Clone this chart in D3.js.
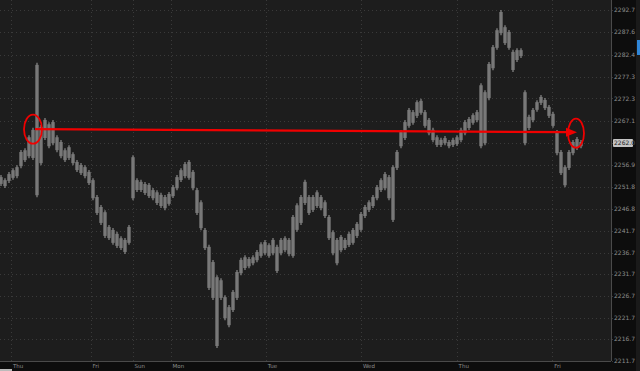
<!DOCTYPE html>
<html>
<head>
<meta charset="utf-8">
<script src="https://cdn.jsdelivr.net/npm/d3@7"></script>
<style>
  html, body { margin: 0; padding: 0; background: #1d1d1d; overflow: hidden; }
  svg { display: block; font-family: "DejaVu Sans", sans-serif; }
</style>
</head>
<body>
<div id="chart"></div>
<script>
// hourly bars, high / low
const highs = [2254.6, 2253.9, 2255.3, 2256.2, 2256.9, 2260.4, 2260.8, 2263.8, 2265.5, 2280.5,
  2266.2, 2267.8, 2266.8, 2267.3, 2263.8, 2262.7, 2260.8, 2261.5, 2259.9, 2258.1,
  2257.4, 2256.9, 2255.8, 2253.9, 2250.0, 2247.7, 2246.5, 2243.1, 2242.4, 2241.5,
  2240.5, 2240.1, 2243.1, 2259.2, 2253.9, 2253.5, 2253.0, 2252.8, 2251.6, 2251.1,
  2250.5, 2250.0, 2250.7, 2252.3, 2254.6, 2256.2, 2257.6, 2258.1, 2255.8, 2251.6,
  2248.8, 2242.4, 2238.5, 2235.0, 2231.5, 2230.8, 2226.9, 2224.6, 2228.1, 2232.7,
  2235.5, 2236.1, 2235.7, 2236.1, 2237.3, 2239.1, 2239.6, 2238.9, 2240.1, 2238.5,
  2240.1, 2240.5, 2240.1, 2245.4, 2248.1, 2250.0, 2253.5, 2250.0, 2250.0, 2251.1,
  2250.0, 2248.8, 2245.4, 2241.9, 2240.1, 2240.8, 2240.1, 2241.5, 2242.4, 2243.8,
  2246.1, 2247.7, 2248.8, 2250.0, 2252.3, 2253.9, 2255.3, 2254.6, 2256.9, 2260.4,
  2265.0, 2267.3, 2270.1, 2269.6, 2271.9, 2272.2, 2269.6, 2267.8, 2265.5, 2263.8,
  2263.2, 2263.6, 2262.7, 2263.2, 2263.8, 2265.5, 2267.3, 2268.0, 2268.9, 2269.6,
  2275.8, 2274.2, 2280.7, 2284.6, 2288.5, 2292.7, 2289.2, 2288.1, 2283.5, 2283.9,
  2283.9, 2274.2, 2268.5, 2270.1, 2271.9, 2273.1, 2272.4, 2270.8, 2269.2, 2265.0,
  2260.4, 2256.9, 2260.4, 2262.7, 2263.4, 2262.7];
const lows = [2252.1, 2251.6, 2252.8, 2253.5, 2253.9, 2256.2, 2257.6, 2258.5, 2258.1, 2249.5,
  2256.9, 2262.7, 2260.8, 2261.5, 2259.9, 2258.5, 2257.6, 2258.1, 2256.9, 2255.3,
  2254.6, 2253.9, 2252.3, 2248.8, 2245.4, 2243.1, 2240.1, 2239.6, 2238.5, 2237.8,
  2237.3, 2236.4, 2238.5, 2248.8, 2250.7, 2250.7, 2250.0, 2249.3, 2248.8, 2247.7,
  2247.0, 2246.5, 2247.5, 2249.3, 2251.1, 2253.0, 2253.9, 2253.5, 2251.1, 2245.4,
  2241.9, 2237.3, 2228.1, 2225.8, 2214.7, 2225.8, 2221.1, 2219.5, 2223.0, 2225.8,
  2231.5, 2232.7, 2233.1, 2233.8, 2234.5, 2235.5, 2236.1, 2235.5, 2236.1, 2232.0,
  2236.1, 2236.8, 2235.9, 2235.5, 2241.5, 2243.1, 2247.7, 2245.4, 2246.1, 2247.0,
  2246.5, 2244.7, 2239.6, 2236.1, 2233.8, 2236.8, 2237.3, 2238.0, 2238.5, 2240.1,
  2241.5, 2244.7, 2246.1, 2247.0, 2248.8, 2250.7, 2251.1, 2248.8, 2243.8, 2255.8,
  2260.8, 2262.7, 2265.5, 2266.2, 2267.8, 2268.5, 2265.5, 2263.8, 2262.2, 2261.1,
  2261.1, 2261.5, 2260.8, 2261.1, 2261.3, 2262.2, 2263.8, 2265.0, 2266.2, 2266.8,
  2260.8, 2261.5, 2271.9, 2278.8, 2283.5, 2286.9, 2284.6, 2283.5, 2278.4, 2280.7,
  2281.6, 2261.5, 2265.0, 2266.8, 2269.2, 2270.8, 2269.6, 2267.8, 2265.5, 2259.2,
  2254.6, 2251.8, 2255.8, 2259.2, 2260.4, 2260.8];

const priceTicks = [2292.7, 2287.6, 2282.4, 2277.3, 2272.3, 2267.1, 2262.0, 2256.9, 2251.8,
  2246.8, 2241.7, 2236.7, 2231.7, 2226.7, 2221.7, 2216.7, 2211.7];
const dayLabels = ["Thu", "Fri", "Sun", "Mon", "Tue", "Wed", "Thu", "Fri"];
const dayAt = [2.5, 22.4, 32.9, 42.4, 66.2, 90, 113.9, 137.8];
const lastPrice = 2262.0;

// the red drawn-in arrow: from bar/price to bar/price
const arrowFrom = [8.5, 2265.2];
const arrowTo = [144, 2264.5];

const W = 640, H = 371;
const plotR = 611, plotB = 361;

const svg = d3.select("#chart").append("svg").attr("width", W).attr("height", H);

const x = d3.scaleLinear().domain([-0.25, 152.5]).range([0, plotR]);
const y = d3.scaleLinear().domain([2211.7, 2292.7]).range([plotB, 10]);

svg.append("rect").attr("width", W).attr("height", H).attr("fill", "#1d1d1d");
// right axis panel
svg.append("rect").attr("x", plotR).attr("y", 0).attr("width", W - plotR).attr("height", H).attr("fill", "#0d0d0d");
svg.append("rect").attr("x", 636).attr("y", 0).attr("width", 4).attr("height", H).attr("fill", "#1a1a1a");
svg.append("rect").attr("x", 637).attr("y", 40).attr("width", 3).attr("height", 15).attr("fill", "#2f86d8");
// bottom axis band
svg.append("rect").attr("x", 0).attr("y", plotB).attr("width", plotR).attr("height", H - plotB).attr("fill", "#0d0d0d");

// grid
svg.append("g").selectAll("line").data(priceTicks).join("line")
  .attr("x1", 0).attr("x2", plotR + 3)
  .attr("y1", d => Math.round(y(d)) + 0.5).attr("y2", d => Math.round(y(d)) + 0.5)
  .attr("stroke", "#3a3a3a").attr("stroke-dasharray", "1,3");
svg.append("g").selectAll("line").data(dayAt).join("line")
  .attr("x1", d => Math.round(x(d)) + 0.5).attr("x2", d => Math.round(x(d)) + 0.5)
  .attr("y1", 0).attr("y2", plotB + 2)
  .attr("stroke", "#3a3a3a").attr("stroke-dasharray", "1,3");

// borders
svg.append("line").attr("x1", plotR + 0.5).attr("x2", plotR + 0.5).attr("y1", 0).attr("y2", plotB)
  .attr("stroke", "#4a4a4a");
svg.append("line").attr("x1", 0).attr("x2", plotR).attr("y1", plotB + 0.5).attr("y2", plotB + 0.5)
  .attr("stroke", "#4a4a4a");

// bars: soft body over the whole hour slot, brighter wick in the middle
const bars = highs.map((h, i) => ({ i, h, l: lows[i] }));
const step = x(1) - x(0);
const g = svg.append("g");
g.selectAll("rect").data(bars).join("rect")
  .attr("x", d => x(d.i) - step / 2)
  .attr("y", d => y(d.h) + 2)
  .attr("width", step)
  .attr("height", d => Math.max(1, y(d.l) - y(d.h) - 4))
  .attr("fill", "#5c5c5c");
g.selectAll("line").data(bars).join("line")
  .attr("x1", d => x(d.i)).attr("x2", d => x(d.i))
  .attr("y1", d => y(d.h)).attr("y2", d => y(d.l))
  .attr("stroke", "#8c8c8c").attr("stroke-width", 1.2);

// y labels
svg.append("g").selectAll("text").data(priceTicks).join("text")
  .attr("x", plotR + 3).attr("y", d => y(d))
  .attr("dy", "0.35em")
  .attr("font-size", 6).attr("fill", "#8e8e8e")
  .text(d => d.toFixed(1));

// current price box
svg.append("rect").attr("x", plotR + 2).attr("y", y(lastPrice) - 4).attr("width", 20).attr("height", 8)
  .attr("rx", 1).attr("fill", "#c4c4c4");
svg.append("text").attr("x", plotR + 3).attr("y", y(lastPrice)).attr("dy", "0.35em")
  .attr("font-size", 6).attr("fill", "#1a1a1a").text(lastPrice.toFixed(1));

// day labels
svg.append("g").selectAll("text").data(dayLabels).join("text")
  .attr("x", (d, i) => x(dayAt[i]) + 2).attr("y", 368)
  .attr("font-size", 5.5).attr("fill", "#8e8e8e")
  .text(d => d);
svg.append("rect").attr("x", 0).attr("y", 369).attr("width", 12).attr("height", 2).attr("fill", "#bbbbbb");

// red annotation
const red = "#f00000";
const x0 = x(arrowFrom[0]), y0 = y(arrowFrom[1]);
const x1 = x(arrowTo[0]), y1 = y(arrowTo[1]);
svg.append("line").attr("x1", x0).attr("y1", y0).attr("x2", x1 - 9).attr("y2", y1)
  .attr("stroke", red).attr("stroke-width", 2.2);
svg.append("path")
  .attr("d", `M${x1},${y1} L${x1 - 11},${y1 - 4.5} L${x1 - 11},${y1 + 4.5} Z`)
  .attr("fill", red);
svg.append("ellipse").attr("cx", x0 - 2).attr("cy", y0).attr("rx", 9).attr("ry", 14.5)
  .attr("fill", "none").attr("stroke", red).attr("stroke-width", 1.8);
svg.append("ellipse").attr("cx", x1 - 1).attr("cy", y1 + 1).attr("rx", 8).attr("ry", 14.5)
  .attr("fill", "none").attr("stroke", red).attr("stroke-width", 1.8);
</script>
</body>
</html>
